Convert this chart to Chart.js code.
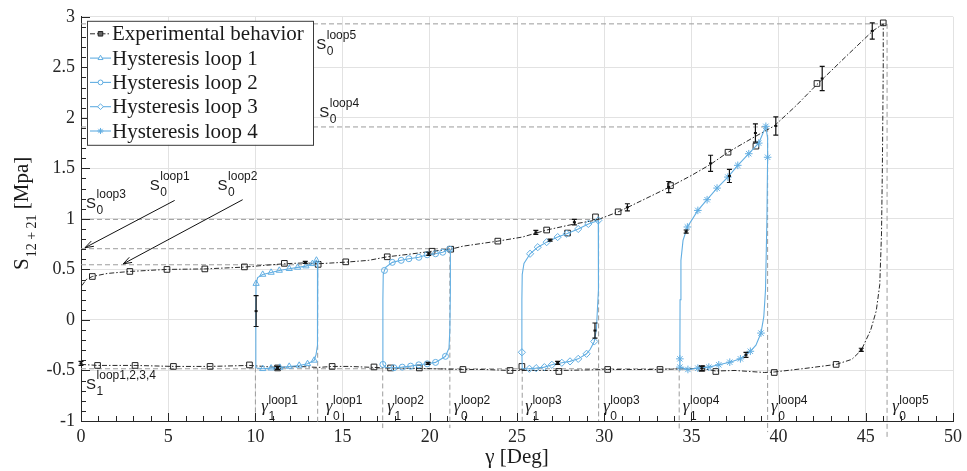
<!DOCTYPE html>
<html><head><meta charset="utf-8">
<script src="https://cdn.jsdelivr.net/npm/chart.js@4.4.1/dist/chart.umd.min.js"></script>
<style>html,body{margin:0;padding:0;background:#fff}canvas{display:block}</style>
</head><body><canvas id="c" width="967" height="471"></canvas>
<script>
// ---------------- DATA ----------------
const seriesNames = ['Experimental behavior','Hysteresis loop 1','Hysteresis loop 2','Hysteresis loop 3','Hysteresis loop 4'];
const xTickStep = 5, yTickStep = 0.5;

const expCurve = [
 [0.05,0.34],[0.3,0.40],[0.65,0.43],[1.5,0.46],[2.8,0.48],[4.9,0.50],[7.1,0.505],[9.37,0.523],[10.5,0.54],
 [11.66,0.556],[12.86,0.565],[13.6,0.556],[15.18,0.572],[16.5,0.59],[17.56,0.625],[18.8,0.65],[20.13,0.68],
 [21.2,0.70],[21.9,0.73],[23.9,0.78],[25.3,0.82],[26.7,0.89],[28.3,0.95],[29.6,0.99],[30.8,1.07],[31.3,1.11],
 [33.8,1.32],[35,1.43],[36.1,1.54],[37.1,1.66],[38.5,1.80],[39.75,1.92],[41,2.12],[42.2,2.33],[42.5,2.38],
 [44,2.63],[45.4,2.86],[46.0,2.93],
 [46.0,2.5],[45.95,1.5],[45.9,0.85],[45.8,0.35],[45.6,0.09],[45.28,-0.10],[44.74,-0.30],[44.2,-0.39],
 [43.3,-0.44],[41.5,-0.48],[39.75,-0.515],[39.2,-0.52],[37.5,-0.50],[36.4,-0.505],[35.6,-0.48],[34.3,-0.485],
 [33.2,-0.49],[30.2,-0.49],[27.4,-0.50],[24.6,-0.50],[23.1,-0.49],[21.9,-0.49],[19.4,-0.48],[17.75,-0.475],
 [16.8,-0.47],[15.4,-0.46],[14.4,-0.46],[13.6,-0.47],[12.5,-0.46],[11.3,-0.47],[9.66,-0.45],[7.4,-0.46],
 [5.3,-0.46],[3.1,-0.45],[0.95,-0.45],[0.05,-0.44]
];
const expSquares = [
 [0.65,0.43],[2.8,0.48],[4.93,0.50],[7.1,0.505],[9.37,0.525],[11.66,0.56],[13.6,0.55],[15.18,0.575],
 [17.56,0.625],[20.13,0.68],[21.2,0.70],[23.9,0.78],[26.7,0.89],[27.9,0.86],[29.5,1.02],[30.8,1.07],
 [33.8,1.33],[37.1,1.66],[38.7,1.72],[42.2,2.34],[46.0,2.94],
 [0.95,-0.45],[3.1,-0.45],[5.3,-0.46],[7.4,-0.46],[9.66,-0.445],[11.27,-0.475],[14.4,-0.46],[16.8,-0.465],
 [17.75,-0.475],[19.4,-0.475],[21.9,-0.49],[24.6,-0.50],[25.28,-0.46],[27.4,-0.51],[30.2,-0.49],
 [33.2,-0.49],[35.6,-0.48],[36.4,-0.51],[39.75,-0.52],[43.3,-0.44]
];
// [x, low, high]
const errorBars = [
 [45.37,2.78,2.94],[42.5,2.27,2.51],[39.84,1.83,2.01],[38.67,1.76,1.94],[37.18,1.36,1.49],[36.1,1.47,1.63],
 [33.7,1.26,1.37],[31.33,1.08,1.15],[34.7,0.86,0.89],[44.74,-0.31,-0.28],[38.13,-0.37,-0.32],[35.6,-0.50,-0.46],
 [29.47,-0.18,-0.03],[28.29,0.94,0.995],[26.08,0.846,0.886],[26.9,0.78,0.80],[27.33,-0.44,-0.41],
 [10.04,-0.065,0.24],[19.94,0.64,0.67],[19.9,-0.44,-0.42],[12.86,0.56,0.58],[11.27,-0.49,-0.46],[0.0,-0.45,-0.41]
];

const loop1Curve = [
 [10.0,-0.47],[10.02,-0.2],[10.03,0.1],[10.04,0.36],[10.13,0.42],[10.42,0.45],[10.9,0.47],[11.37,0.49],
 [11.94,0.507],[12.42,0.52],[12.9,0.533],[13.27,0.556],[13.5,0.59],[13.58,0.57],[13.58,0.3],[13.56,0.0],
 [13.54,-0.25],[13.48,-0.34],[13.37,-0.40],[12.99,-0.434],[12.51,-0.45],[11.94,-0.46],[11.4,-0.47],
 [10.9,-0.477],[10.42,-0.483],[10.1,-0.475],[10.0,-0.47]
];
const loop1Marks = [
 [10.04,0.36],[10.42,0.45],[10.9,0.47],[11.37,0.49],[11.94,0.507],[12.42,0.52],[12.9,0.533],[13.27,0.556],
 [13.5,0.59],[13.37,-0.40],[12.99,-0.434],[12.51,-0.45],[11.94,-0.46],[11.4,-0.47],[10.9,-0.477],[10.42,-0.483]
];
const loop2Curve = [
 [17.31,-0.44],[17.31,0.2],[17.33,0.45],[17.4,0.49],[17.47,0.52],[17.85,0.57],[18.36,0.59],[18.8,0.606],
 [19.37,0.62],[19.85,0.645],[20.33,0.655],[20.74,0.67],[21.13,0.70],[21.18,0.69],[21.18,0.3],[21.15,-0.1],
 [21.1,-0.28],[20.9,-0.36],[20.33,-0.42],[19.85,-0.434],[19.37,-0.444],[18.9,-0.457],[18.42,-0.467],
 [17.94,-0.473],[17.47,-0.47],[17.31,-0.44]
];
const loop2Marks = [
 [17.31,-0.44],[17.4,0.49],[17.85,0.57],[18.36,0.59],[18.8,0.606],[19.37,0.62],[19.85,0.645],[20.33,0.655],
 [20.74,0.67],[21.13,0.70],[20.9,-0.36],[20.33,-0.42],[19.85,-0.434],[19.37,-0.444],[18.9,-0.457],
 [18.42,-0.467],[17.94,-0.473]
];
const loop3Curve = [
 [25.3,-0.483],[25.28,-0.32],[25.28,0.2],[25.3,0.45],[25.4,0.56],[25.75,0.655],[26.19,0.72],[26.7,0.77],
 [27.33,0.82],[27.85,0.853],[28.51,0.90],[29.09,0.95],[29.66,0.985],[29.68,0.9],[29.66,0.3],[29.55,-0.1],
 [29.43,-0.213],[29.2,-0.29],[28.99,-0.335],[28.51,-0.385],[28.04,-0.41],[27.57,-0.424],[27.0,-0.444],
 [26.57,-0.467],[26.1,-0.477],[25.71,-0.483],[25.3,-0.483]
];
const loop3Marks = [
 [25.28,-0.32],[25.75,0.655],[26.19,0.72],[26.7,0.77],[27.33,0.82],[27.85,0.853],[28.51,0.90],[29.09,0.95],
 [29.66,0.985],[29.43,-0.213],[28.99,-0.335],[28.51,-0.385],[28.04,-0.41],[27.57,-0.424],[27.0,-0.444],
 [26.57,-0.467],[26.1,-0.477],[25.71,-0.483]
];
const loop4Curve = [
 [34.34,-0.467],[34.34,-0.385],[34.35,0.2],[34.4,0.59],[34.52,0.787],[34.77,0.92],[35.37,1.084],[35.9,1.19],
 [36.47,1.305],[37.09,1.414],[37.66,1.53],[38.29,1.645],[38.86,1.75],[39.27,1.916],[39.37,1.8],[39.37,1.61],
 [39.33,1.0],[39.25,0.3],[39.15,0.03],[38.99,-0.13],[38.7,-0.25],[38.38,-0.31],[37.81,-0.385],[37.2,-0.418],
 [36.57,-0.444],[36.0,-0.467],[35.37,-0.477],[34.8,-0.49],[34.34,-0.467]
];
const loop4Marks = [
 [34.34,-0.385],[34.77,0.92],[35.37,1.084],[35.9,1.19],[36.47,1.305],[37.09,1.414],[37.66,1.53],[38.29,1.645],
 [38.86,1.75],[39.27,1.916],[39.37,1.61],[38.99,-0.13],[38.38,-0.31],[37.81,-0.385],[37.2,-0.418],
 [36.57,-0.444],[36.0,-0.467],[35.37,-0.477],[34.8,-0.49],[34.34,-0.467]
];
// reference dashed lines: horizontal [y, xEnd], vertical [x, yTop, yBottom]
const refH = [[2.93,46.22],[1.91,39.37],[0.995,29.68],[0.705,21.15],[0.546,13.57],[-0.483,34.34]];
const refV = [[10.0,-0.47,-1],[13.57,0.546,-1.02],[17.3,-0.47,-1.07],[21.15,0.705,-1.07],[25.3,-0.483,-1.0],
 [29.68,0.995,-1.0],[34.3,-0.47,-1.08],[39.37,1.91,-1.11],[46.22,2.93,-1.16]];

// text annotations (anchored in data units)
const sLabels = [
 {x:13.49,y:2.678,sup:'loop5',sub:'0'},{x:13.66,y:2.005,sup:'loop4',sub:'0'},
 {x:0.29,y:1.104,sup:'loop3',sub:'0'},{x:3.94,y:1.282,sup:'loop1',sub:'0'},
 {x:7.83,y:1.282,sup:'loop2',sub:'0'},{x:0.29,y:-0.688,sup:'loop1,2,3,4',sub:'1'}
];
const gLabels = [
 {x:10.34,sup:'loop1',sub:'1'},{x:14.04,sup:'loop1',sub:'0'},{x:17.56,sup:'loop2',sub:'1'},
 {x:21.37,sup:'loop2',sub:'0'},{x:25.47,sup:'loop3',sub:'1'},{x:29.94,sup:'loop3',sub:'0'},
 {x:34.51,sup:'loop4',sub:'1'},{x:39.56,sup:'loop4',sub:'0'},{x:46.51,sup:'loop5',sub:'0'}
];
const arrows = [[5.37,1.183,0.23,0.715],[9.27,1.19,2.42,0.555]];

// ---------------- BUILD ----------------
const pts = a => a.map(([x,y]) => ({x,y}));
const BLUE = 'rgb(98,174,226)';
const SERIF = "'Liberation Serif', 'Times New Roman', serif";
const SANS = "'Liberation Sans', Arial, sans-serif";

const datasets = [];
refH.forEach(([y,xe]) => datasets.push({type:'line',data:pts([[0,y],[xe,y]]),borderColor:'#9c9c9c',borderWidth:1,borderDash:[5,3],pointRadius:0,order:20,clip:false}));
refV.forEach(([x,y1,y2]) => datasets.push({type:'line',data:pts([[x,y1],[x,y2]]),borderColor:'#9c9c9c',borderWidth:1,borderDash:[5,3],pointRadius:0,order:20,clip:false}));

const expLine = {type:'line',label:seriesNames[0],data:pts(expCurve),borderColor:'#111',borderWidth:0.9,borderDash:[5,2,1.5,2],pointRadius:0,tension:0,order:8};
const expMarks = {type:'scatter',data:pts(expSquares),pointStyle:'rect',pointRadius:4,borderColor:'#222',pointBorderWidth:1,backgroundColor:'rgba(255,255,255,0)',order:7};
datasets.push(expLine, expMarks);

const loopStyles = [
 {curve:loop1Curve,marks:loop1Marks,style:'triangle',r:3.6},
 {curve:loop2Curve,marks:loop2Marks,style:'circle',r:3},
 {curve:loop3Curve,marks:loop3Marks,style:'rectRot',r:3.6},
 {curve:loop4Curve,marks:loop4Marks,style:'star',r:3.8}
];
const legendItems = [{line:expLine,mark:expMarks,label:seriesNames[0]}];
loopStyles.forEach((l,i) => {
  const line = {type:'line',label:seriesNames[i+1],data:pts(l.curve),borderColor:BLUE,borderWidth:1.1,pointRadius:0,tension:0,order:3};
  const mark = {type:'scatter',data:pts(l.marks),pointStyle:l.style,pointRadius:l.r,borderColor:BLUE,pointBorderWidth:1,backgroundColor:'rgba(255,255,255,0)',order:2};
  datasets.push(line, mark);
  legendItems.push({line,mark,label:seriesNames[i+1]});
});

function drawScript(ctx, px, py, main, mainFont, sup, sub, smallFont, supDy, subDy){
  ctx.font = mainFont; ctx.fillText(main, px, py);
  const w = ctx.measureText(main).width;
  ctx.font = smallFont;
  ctx.fillText(sup, px + w + 0.5, py + supDy);
  ctx.fillText(sub, px + w + 0.5, py + subDy);
}

const extras = {
  id:'extras',
  afterDatasetsDraw(chart){
    const {ctx, scales:{x:xs, y:ys}, chartArea:ca} = chart;
    ctx.save();
    // error bars
    ctx.strokeStyle = '#111'; ctx.lineWidth = 1.2; ctx.fillStyle='#111';
    errorBars.forEach(([x,lo,hi]) => {
      const px = xs.getPixelForValue(x), p1 = ys.getPixelForValue(lo), p2 = ys.getPixelForValue(hi);
      ctx.beginPath();
      ctx.moveTo(px,p1); ctx.lineTo(px,p2);
      ctx.moveTo(px-2.5,p1); ctx.lineTo(px+2.5,p1);
      ctx.moveTo(px-2.5,p2); ctx.lineTo(px+2.5,p2);
      ctx.stroke();
      ctx.fillRect(px-1.5,(p1+p2)/2-1,3,2);
    });
    // axis ticks (inward)
    ctx.strokeStyle = '#262626'; ctx.lineWidth = 1;
    ctx.beginPath();
    for (let i = 0; i <= 50; i++) {
      const px = Math.round(xs.getPixelForValue(i)) + 0.5, len = (i % 5 === 0) ? 8 : 5;
      ctx.moveTo(px, ca.bottom); ctx.lineTo(px, ca.bottom - len);
    }
    for (let i = -10; i <= 30; i++) {
      const py = Math.round(ys.getPixelForValue(i/10)) + 0.5, len = (i % 5 === 0) ? 9 : 5;
      ctx.moveTo(ca.left, py); ctx.lineTo(ca.left + len, py);
    }
    ctx.stroke();
    // arrows
    ctx.strokeStyle = '#111'; ctx.lineWidth = 1;
    arrows.forEach(([x1,y1,x2,y2]) => {
      const a = xs.getPixelForValue(x1), b = ys.getPixelForValue(y1), c = xs.getPixelForValue(x2), d = ys.getPixelForValue(y2);
      const ang = Math.atan2(d-b, c-a), L = 9, s = 0.33;
      ctx.beginPath(); ctx.moveTo(a,b); ctx.lineTo(c,d);
      ctx.moveTo(c - L*Math.cos(ang-s), d - L*Math.sin(ang-s)); ctx.lineTo(c,d);
      ctx.lineTo(c - L*Math.cos(ang+s), d - L*Math.sin(ang+s));
      ctx.stroke();
    });
    // text labels
    ctx.fillStyle = '#1a1a1a'; ctx.textBaseline = 'alphabetic'; ctx.textAlign = 'left';
    sLabels.forEach(l => drawScript(ctx, xs.getPixelForValue(l.x), ys.getPixelForValue(l.y), 'S', '15px '+SANS, l.sup, l.sub, '12px '+SANS, -10, 6));
    gLabels.forEach(l => drawScript(ctx, xs.getPixelForValue(l.x), ys.getPixelForValue(-0.9), 'γ', 'italic 17px '+SERIF, l.sup, l.sub, '12px '+SANS, -7, 9));
    ctx.restore();
  },
  afterDraw(chart){
    const {ctx, chartArea:ca} = chart;
    ctx.save();
    // axis titles
    ctx.fillStyle = '#1a1a1a'; ctx.textBaseline = 'alphabetic';
    ctx.font = '21px '+SERIF; ctx.textAlign = 'center';
    ctx.fillText('γ [Deg]', (ca.left+ca.right)/2, ca.bottom + 42);
    ctx.textAlign = 'left';
    ctx.translate(28, 270); ctx.rotate(-Math.PI/2);
    ctx.font = '21px '+SERIF; ctx.fillText('S', 0, 0);
    let w = ctx.measureText('S').width;
    ctx.font = '14px '+SERIF; ctx.fillText('12 + 21', w + 1, 8);
    w += ctx.measureText('12 + 21').width + 1;
    ctx.font = '21px '+SERIF; ctx.fillText(' [Mpa]', w, 0);
    ctx.setTransform(1,0,0,1,0,0);
    // legend box
    const bx = ca.left + 6, by = ca.top + 4, bw = 226, rowH = 24.3, bh = 124;
    ctx.fillStyle = '#fff'; ctx.fillRect(bx, by, bw, bh);
    ctx.strokeStyle = '#3a3a3a'; ctx.lineWidth = 1; ctx.strokeRect(bx + 0.5, by + 0.5, bw, bh);
    legendItems.forEach((it, i) => {
      const cy = by + 13 + i*rowH;
      ctx.save();
      ctx.strokeStyle = it.line.borderColor; ctx.lineWidth = it.line.borderWidth;
      ctx.setLineDash(it.line.borderDash || []);
      ctx.beginPath(); ctx.moveTo(bx + 3, cy); ctx.lineTo(bx + 24, cy); ctx.stroke();
      ctx.setLineDash([]);
      const m = it.mark;
      ctx.strokeStyle = m.borderColor; ctx.lineWidth = 1;
      ctx.fillStyle = i === 0 ? '#666' : '#ffffff';
      Chart.helpers.drawPoint(ctx, {pointStyle:m.pointStyle, radius:m.pointRadius*0.8, rotation:0, borderWidth:1}, bx + 13.5, cy);
      ctx.restore();
      ctx.fillStyle = '#1a1a1a'; ctx.font = '21px '+SERIF; ctx.textBaseline = 'middle'; ctx.textAlign = 'left';
      ctx.fillText(it.label, bx + 25, cy + 1);
    });
    ctx.restore();
  }
};

const fmtTick = v => String(Math.round(v * 10) / 10);

new Chart(document.getElementById('c'), {
  type:'scatter',
  data:{datasets},
  options:{
    responsive:false, animation:false, devicePixelRatio:1,
    layout:{padding:{top:16,right:10,left:0,bottom:0}},
    plugins:{legend:{display:false},tooltip:{enabled:false}},
    scales:{
      x:{type:'linear',min:0,max:50,
        ticks:{stepSize:xTickStep,font:{family:SERIF,size:18},color:'#262626',padding:5,maxRotation:0,callback:fmtTick},
        grid:{color:'#e2e2e2',drawTicks:false},border:{color:'#262626',width:1},
        afterFit(s){s.height=50;}},
      y:{type:'linear',min:-1,max:3,
        ticks:{stepSize:yTickStep,font:{family:SERIF,size:18},color:'#262626',padding:6,callback:fmtTick},
        grid:{color:'#e2e2e2',drawTicks:false},border:{color:'#262626',width:1},
        afterFit(s){s.width=81;}}
    }
  },
  plugins:[extras]
});
</script></body></html>
